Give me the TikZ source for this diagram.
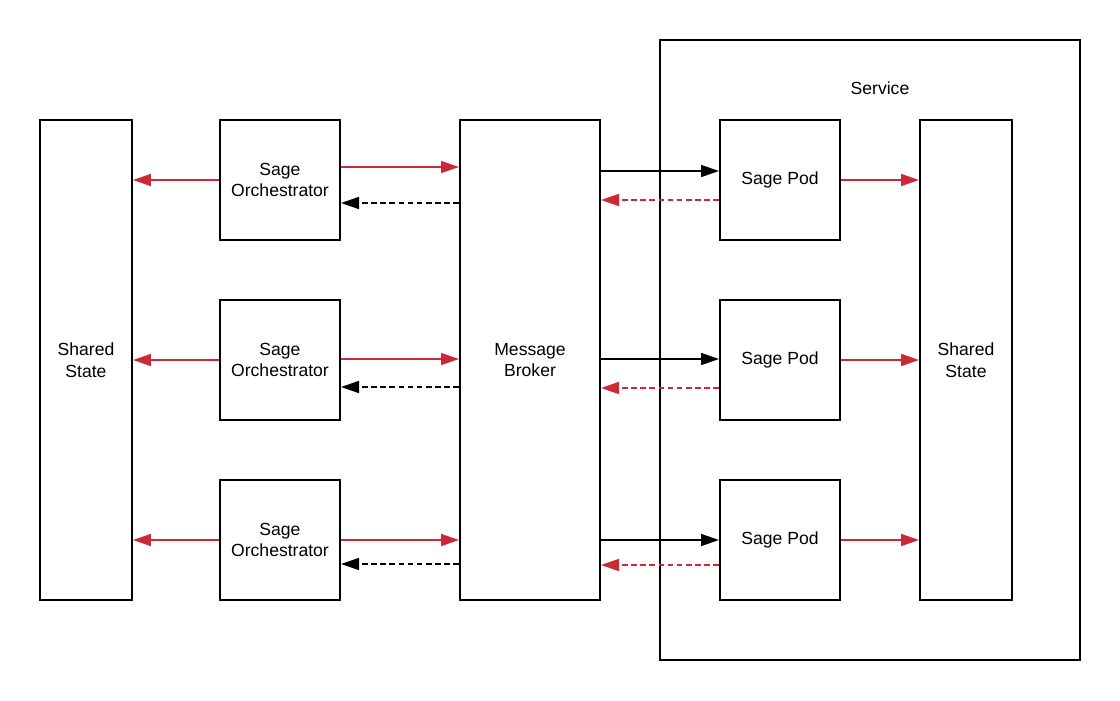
\documentclass[tikz,border=0pt]{standalone}
\usepackage{fontspec}
\setmainfont{Liberation Sans}
\usetikzlibrary{calc,arrows.meta}
\definecolor{SageRed}{RGB}{204,41,54}
\definecolor{SageDark}{RGB}{0,0,0}

\begin{document}
\begin{tikzpicture}[x=0.025cm,y=-0.025cm,
  box/.style={draw=SageDark,line width=1.4pt,align=center,inner sep=0pt,
    font=\fontsize{12.5}{15.5}\selectfont},
  tip/.style={-{Triangle[length=12.8pt,width=8.5pt]},line width=1.3pt},
  redline/.style={tip,color=SageRed},
  blackline/.style={tip,color=SageDark},
  backline/.style={dash pattern=on 4pt off 2.5pt}]
  \useasboundingbox (0,0) rectangle (1120,700);

  % Service frame
  \node[box,minimum width=10.5cm,minimum height=15.5cm] (service) at (870,350) {};
  \node[font=\fontsize{12.5}{15.5}\selectfont] (servicelabel) at (880,88) {Service};

  % Shared state and broker
  \node[box,minimum width=2.3cm,minimum height=12cm] (lstate) at (86,360) {Shared\\State};
  \node[box,minimum width=3.5cm,minimum height=12cm] (broker) at (530,360) {Message\\Broker};
  \node[box,minimum width=2.3cm,minimum height=12cm] (rstate) at (966,360) {Shared\\State};

  % Orchestrators and pods
  \foreach \r/\y in {1/180,2/360,3/540} {
    \node[box,minimum width=3cm,minimum height=3cm] (orch\r) at (280,\y) {Sage\\Orchestrator};
    \node[box,minimum width=3cm,minimum height=3cm] (pod\r) at (780,\y) {Sage Pod};
  }

  % Connectors
  \foreach \r/\ya/\yb/\yc/\yd in {1/-13/23/-9/20,2/-1/27/-1/28,3/0/24/0/25} {
    \draw[redline] (orch\r.west) -- (orch\r.west -| lstate.east);
    \coordinate (oa\r) at ($(orch\r.east)+(0,\ya)$);
    \draw[redline] (oa\r) -- (oa\r -| broker.west);
    \coordinate (ob\r) at ($(orch\r.east)+(0,\yb)$);
    \draw[blackline,backline] (ob\r -| broker.west) -- (ob\r);
    \coordinate (pa\r) at ($(pod\r.west)+(0,\yc)$);
    \draw[blackline] (pa\r -| broker.east) -- (pa\r);
    \coordinate (pb\r) at ($(pod\r.west)+(0,\yd)$);
    \draw[redline,backline] (pb\r) -- (pb\r -| broker.east);
    \draw[redline] (pod\r.east) -- (pod\r.east -| rstate.west);
  }
\end{tikzpicture}
\end{document}
